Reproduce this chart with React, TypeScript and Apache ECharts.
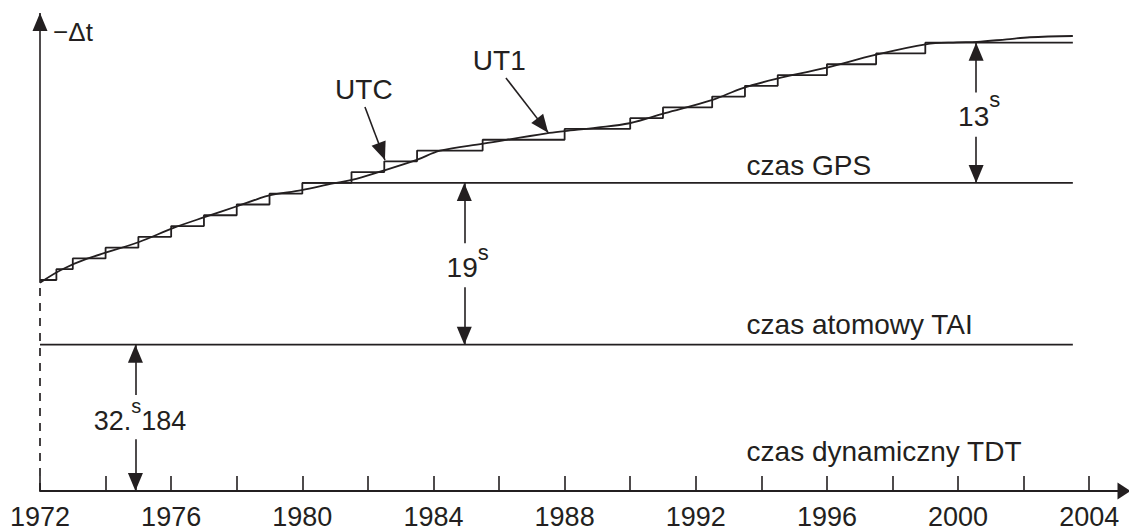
import React, { useEffect, useRef } from "react";
import * as echarts from "echarts";

const INK = "#231f20";
const FONT = '"Liberation Sans", Arial, Helvetica, sans-serif';

// ---- x axis (years) ----
const X_MIN = 1972;
const X_MAX = 2005.06; // a little room past 2004 for the arrow head
const tickYears = [1972, 1974, 1976, 1978, 1980, 1982, 1984, 1986, 1988, 1990, 1992, 1994, 1996, 1998, 2000, 2002, 2004];
const labelYears = [1972, 1976, 1980, 1984, 1988, 1992, 1996, 2000, 2004];

// ---- schematic vertical scale (1 unit = 1 s on the UTC scale) ----
const TDT_LEVEL = -9.56;
const Y_TOP = 34.75;
const TAI_LEVEL = 4;
const GPS_LEVEL = 19;
const GPS_START = 1980;
const LINE_END = 2003.5;

// ---- UTC (leap-second steps) ----
const utcYears = [1972.0, 1972.5, 1973, 1974, 1975, 1976, 1977, 1978, 1979, 1980, 1981.5, 1982.5, 1983.5, 1985.5, 1988, 1990, 1991, 1992.5, 1993.5, 1994.5, 1996, 1997.5, 1999, 2003.5];
const utcValues = [10, 11, 12, 13, 14, 15, 16, 17, 18, 19, 20, 21, 22, 23, 24, 25, 26, 27, 28, 29, 30, 31, 32, 32];

// ---- UT1 (smooth curve) ----
const ut1Years = [1972.0, 1972.64, 1973.42, 1975.02, 1976.09, 1977.06, 1978.03, 1978.61, 1979.0, 1979.98, 1980.94, 1981.51, 1982.37, 1983.49, 1984.2, 1985.52, 1987.45, 1988.0, 1988.98, 1989.98, 1991.06, 1992.51, 1993.41, 1994.45, 1995.92, 1997.47, 1999.01, 1999.96, 2000.57, 2001.48, 2002.19, 2003.5];
const ut1Values = [9.75, 10.93, 11.95, 13.52, 14.85, 15.87, 16.86, 17.48, 17.85, 18.34, 18.95, 19.27, 20.04, 21.13, 21.99, 22.64, 23.6, 23.8, 24.12, 24.53, 25.46, 26.69, 27.77, 28.64, 29.63, 30.86, 31.85, 32.03, 32.07, 32.31, 32.5, 32.62];

// ---- annotation texts ({s|s} = superscript seconds) ----
const labelTexts = ["−Δt", "UTC", "UT1", "czas GPS", "13{s|s}", "19{s|s}", "czas atomowy TAI", "32.{s|s}184", "czas dynamiczny TDT"];

// layout of annotations (data-space anchors, left / middle)
const labelLayout: { x: number; y: number; size: number; lh?: number; sup?: number }[] = [
  { x: 1972.4, y: 32.95, size: 26 },
  { x: 1981.0, y: 27.62, size: 28 },
  { x: 1985.2, y: 30.35, size: 28 },
  { x: 1993.55, y: 20.59, size: 28 },
  { x: 2000.0, y: 25.14, size: 28, lh: 56, sup: 22 },
  { x: 1984.4, y: 11.16, size: 28, lh: 52, sup: 22 },
  { x: 1993.55, y: 5.92, size: 28 },
  { x: 1973.64, y: -3.1, size: 27, lh: 50, sup: 20 },
  { x: 1993.55, y: -5.92, size: 28 },
];

// arrow segments (from -> arrow head at "to")
const arrowSegments: [number, number, number, number][] = [
  [1972, 9.75, 1972, Y_TOP],
  [1981.91, 26.04, 1982.52, 21.13],
  [1986.21, 28.73, 1987.5, 23.66],
  [2000.55, 27.37, 2000.55, 32],
  [2000.55, 23.29, 2000.55, GPS_LEVEL],
  [1984.94, 13.4, 1984.94, GPS_LEVEL],
  [1984.94, 9.32, 1984.94, TAI_LEVEL],
  [1974.91, -0.66, 1974.91, TAI_LEVEL],
  [1974.91, -4.77, 1974.91, TDT_LEVEL],
];

export default function App() {
  const ref = useRef<HTMLDivElement>(null);
  useEffect(() => {
    if (!ref.current) return;
    const chart = echarts.init(ref.current, null, { renderer: "svg" });
    const lineBase = { type: "line", symbol: "none", silent: true, lineStyle: { color: INK, width: 1.8 } };
    chart.setOption({
      animation: false,
      backgroundColor: "#ffffff",
      grid: { left: 40, top: 13, width: 1084, bottom: 40 },
      xAxis: {
        type: "value",
        min: X_MIN,
        max: X_MAX,
        splitLine: { show: false },
        axisLine: {
          show: true,
          onZero: false,
          lineStyle: { color: INK, width: 2 },
          symbol: ["none", "triangle"],
          symbolSize: [17, 13],
        },
        axisTick: { show: true, inside: true, length: 15, customValues: tickYears, lineStyle: { color: INK, width: 1.6 } },
        axisLabel: {
          customValues: labelYears,
          fontSize: 27,
          fontFamily: FONT,
          color: INK,
          margin: 12,
          formatter: (v: number) => String(Math.round(v)),
        },
      },
      yAxis: { type: "value", min: TDT_LEVEL, max: Y_TOP, show: false },
      series: [
        { ...lineBase, name: "UTC", step: "end", data: utcYears.map((y, i) => [y, utcValues[i]]) },
        { ...lineBase, name: "UT1", smooth: 0.35, data: ut1Years.map((y, i) => [y, ut1Values[i]]) },
        { ...lineBase, name: "GPS", data: [[GPS_START, GPS_LEVEL], [LINE_END, GPS_LEVEL]] },
        {
          ...lineBase,
          name: "TAI",
          data: [[X_MIN, TAI_LEVEL], [LINE_END, TAI_LEVEL]],
          markLine: {
            silent: true,
            animation: false,
            symbol: ["none", "triangle"],
            symbolSize: [15, 18],
            symbolOffset: [[0, 0], [0, 9]],
            label: { show: false },
            lineStyle: { color: INK, width: 1.6, type: "solid" },
            data: arrowSegments.map((s) => [{ coord: [s[0], s[1]] }, { coord: [s[2], s[3]] }]),
          },
        },
        {
          ...lineBase,
          name: "axis",
          lineStyle: { color: INK, width: 1.7, type: [8, 7] },
          data: [[X_MIN, TDT_LEVEL], [X_MIN, ut1Values[0]]],
        },
      ],
    });
    const graphic = labelTexts.map((t, i) => {
      const l = labelLayout[i];
      const p = chart.convertToPixel({ gridIndex: 0 }, [l.x, l.y]) as number[];
      const style: any = { text: t, fill: INK, fontSize: l.size, fontFamily: FONT, align: "left", verticalAlign: "middle" };
      if (l.sup) {
        style.lineHeight = l.lh;
        style.rich = { s: { fontSize: l.sup, lineHeight: l.sup, verticalAlign: "top", fill: INK, fontFamily: FONT } };
      }
      return { type: "text", x: p[0], y: p[1], silent: true, style };
    });
    chart.setOption({ graphic });
    return () => chart.dispose();
  }, []);
  return <div ref={ref} style={{ position: "fixed", left: 0, top: 0, width: 1129, height: 531 }} />;
}
